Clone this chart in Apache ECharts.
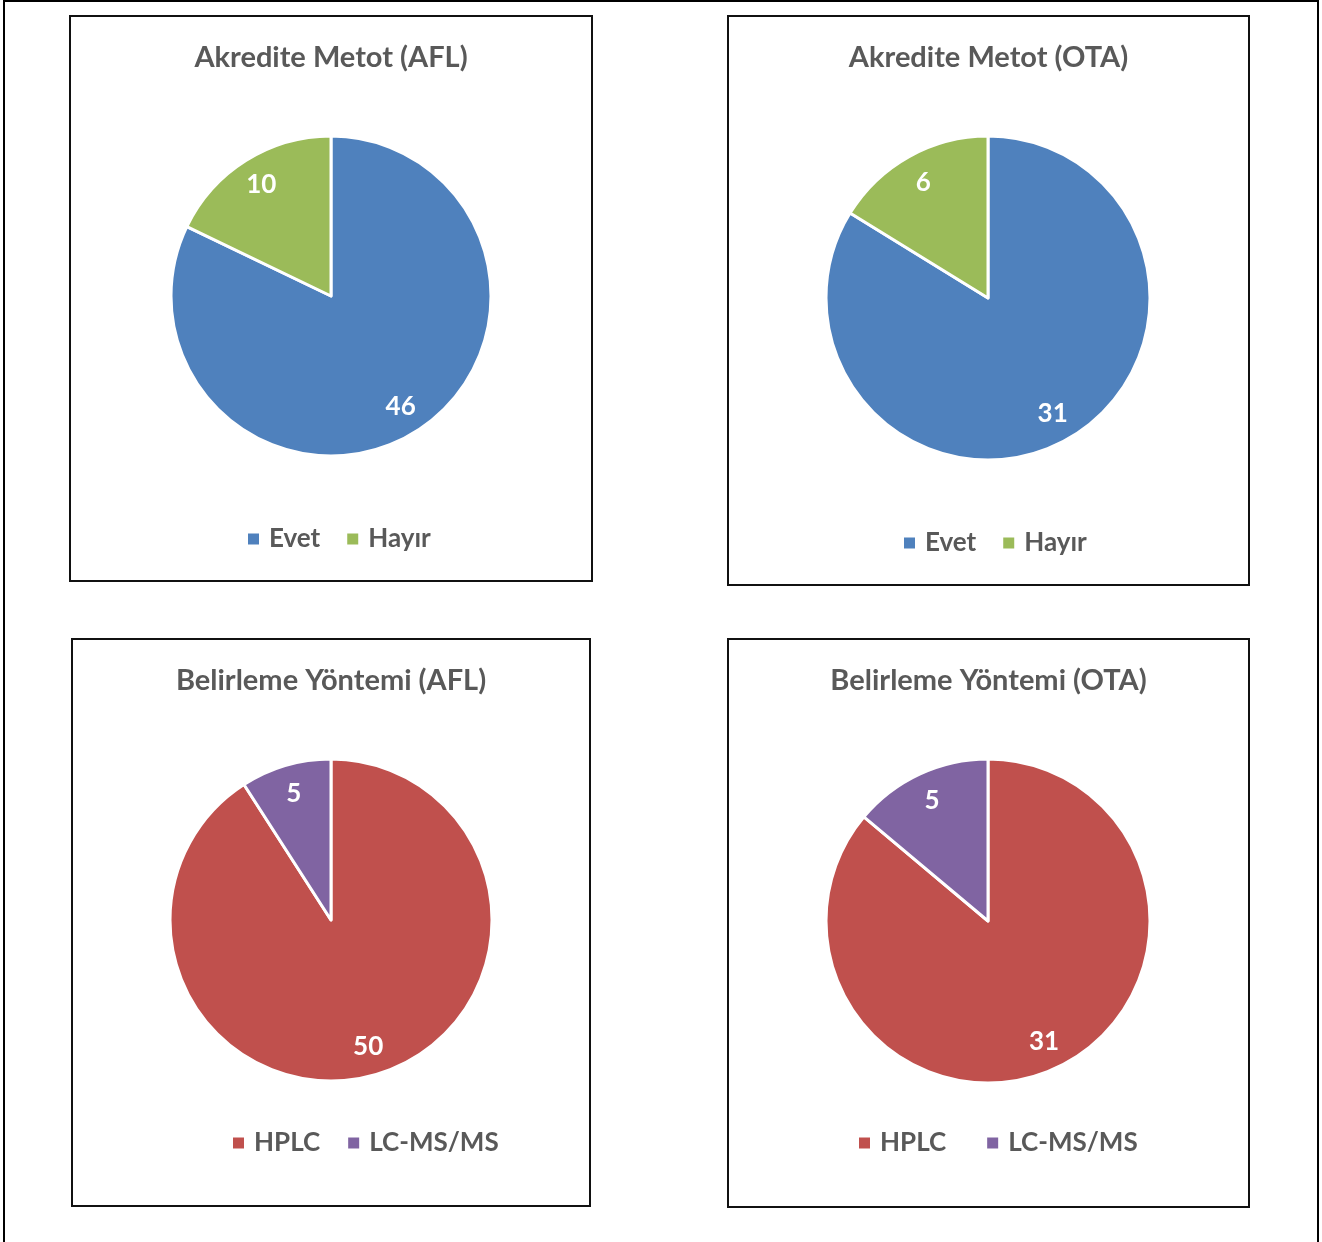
<!DOCTYPE html>
<html>
<head>
<meta charset="utf-8">
<script src="https://cdn.jsdelivr.net/npm/echarts@6/dist/echarts.min.js"></script>
<style>
  html, body { margin: 0; padding: 0; background: #fff; overflow: hidden; }
  .outer { position: absolute; left: 3px; top: 0; width: 1316px; height: 1270px; border: 2px solid #000; box-sizing: border-box; }
  .panel { position: absolute; border: 2px solid #111; box-sizing: border-box; background: #fff; }
  .panel > div { width: 100%; height: 100%; }
</style>
</head>
<body>
<div class="outer"></div>
<div class="panel" style="left:69px;top:15px;width:524px;height:567px"><div id="c1"></div></div>
<div class="panel" style="left:727px;top:15px;width:523px;height:571px"><div id="c2"></div></div>
<div class="panel" style="left:71px;top:638px;width:520px;height:569px"><div id="c3"></div></div>
<div class="panel" style="left:727px;top:638px;width:523px;height:570px"><div id="c4"></div></div>
<script>
// veriler
const akrediteNames = ['Evet', 'Hayır']
const akrediteAFL = [46, 10]
const akrediteOTA = [31, 6]
const yontemNames = ['HPLC', 'LC-MS/MS']
const yontemAFL = [50, 5]
const yontemOTA = [31, 5]

const FONT = 'Lato, "Open Sans", sans-serif'
const GRAY = '#595959'

const makeOption = ({title, names, values, colors, center, radius, titleTop, legendLeft, legendTop, legendGap}) => {
  const data = names.map((name, i) => ({name, value: values[i]}))
  return {
    animation: false,
    color: colors,
    title: {
      text: title,
      left: 'center',
      top: titleTop,
      padding: 0,
      textStyle: {fontFamily: FONT, fontSize: 29, fontWeight: 'bold', color: GRAY},
    },
    legend: {
      left: legendLeft,
      top: legendTop,
      padding: 0,
      icon: 'rect',
      itemWidth: 13,
      itemHeight: 13,
      itemGap: legendGap,
      data: names.map((name, i) => ({name, itemStyle: {color: colors[i]}})),
      textStyle: {fontFamily: FONT, fontSize: 26, fontWeight: 'bold', color: GRAY, padding: [0, 0, 0, 4]},
      selectedMode: false,
    },
    series: [
      {
        type: 'pie',
        center,
        radius,
        startAngle: 90,
        clockwise: true,
        silent: true,
        label: {show: false},
        labelLine: {show: false},
        itemStyle: {borderColor: '#fff', borderWidth: 3},
        data,
      },
      {
        // sadece etiketler icin seffaf halka
        type: 'pie',
        center,
        radius: [radius * 0.6, radius],
        startAngle: 90,
        clockwise: true,
        silent: true,
        itemStyle: {color: 'transparent', borderWidth: 0},
        label: {
          show: true,
          position: 'inside',
          formatter: '{c}',
          fontFamily: FONT,
          fontSize: 26,
          fontWeight: 'bold',
          color: '#fff',
        },
        labelLine: {show: false},
        data,
      },
    ],
  }
}

const charts = [
  ['c1', {title: 'Akredite Metot (AFL)', names: akrediteNames, values: akrediteAFL,
    colors: ['#4F81BD', '#9BBB59'], center: [260, 279], radius: 160, titleTop: 26,
    legendLeft: 175, legendTop: 509, legendGap: 25}],
  ['c2', {title: 'Akredite Metot (OTA)', names: akrediteNames, values: akrediteOTA,
    colors: ['#4F81BD', '#9BBB59'], center: [259, 281], radius: 162, titleTop: 26,
    legendLeft: 173, legendTop: 513, legendGap: 25}],
  ['c3', {title: 'Belirleme Yöntemi (AFL)', names: yontemNames, values: yontemAFL,
    colors: ['#C0504D', '#8064A2'], center: [258, 280], radius: 161, titleTop: 26,
    legendLeft: 158, legendTop: 490, legendGap: 26}],
  ['c4', {title: 'Belirleme Yöntemi (OTA)', names: yontemNames, values: yontemOTA,
    colors: ['#C0504D', '#8064A2'], center: [259, 281], radius: 162, titleTop: 26,
    legendLeft: 128, legendTop: 490, legendGap: 39}],
]

charts.forEach(([id, opts]) => {
  const chart = echarts.init(document.getElementById(id), null, {renderer: 'canvas'})
  chart.setOption(makeOption(opts))
})
</script>
</body>
</html>
